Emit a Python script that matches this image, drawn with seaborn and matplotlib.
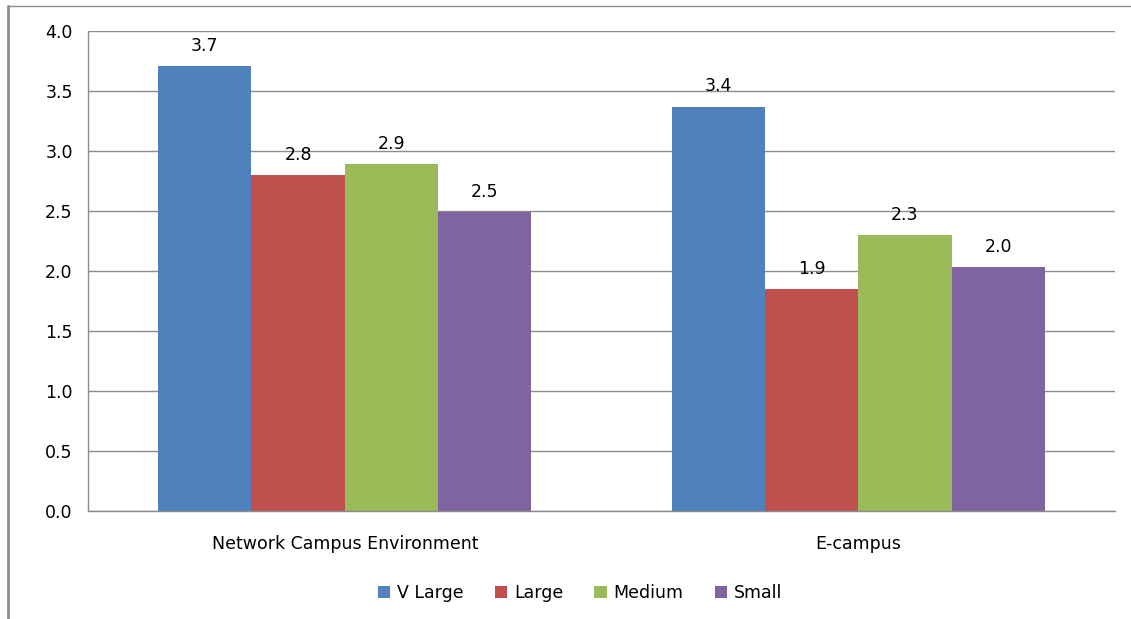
import pandas as pd
import matplotlib
matplotlib.use("Agg")
import matplotlib.pyplot as plt
import seaborn as sns
from matplotlib.lines import Line2D
from matplotlib.patches import Patch

# values
categories = ["Network Campus Environment", "E-campus"]
sizes = ["V Large", "Large", "Medium", "Small"]
v_large = [3.71, 3.37]
large = [2.80, 1.85]
medium = [2.89, 2.30]
small = [2.49, 2.03]
colors = ["#4F81BD", "#C0504D", "#9BBB59", "#8064A2"]
y_ticks = [0.0, 0.5, 1.0, 1.5, 2.0, 2.5, 3.0, 3.5, 4.0]

rows = []
for size, vals in zip(sizes, [v_large, large, medium, small]):
    for cat, v in zip(categories, vals):
        rows.append({"Category": cat, "Size": size, "Score": v})
df = pd.DataFrame(rows)

sns.set_style("white")
plt.rcParams["font.family"] = ["DejaVu Sans"]
fs = 12.5

fig = plt.figure(figsize=(11.31, 6.19), dpi=100)
ax = fig.add_axes([88 / 1131, 1 - 511 / 619, (1115 - 88) / 1131, (511 - 31) / 619])

sns.barplot(data=df, x="Category", y="Score", hue="Size", order=categories,
            hue_order=sizes, palette=colors, width=0.727, saturation=1,
            errorbar=None, ax=ax, legend=False, edgecolor="none", linewidth=0)

for c in ax.containers:
    ax.bar_label(c, fmt="%.1f", padding=8, fontsize=fs, color="black")

ax.set_xlim(-0.5, 1.5)
ax.set_ylim(0, 4.0)
ax.set_yticks(y_ticks)
ax.set_yticklabels([f"{t:.1f}" for t in y_ticks], fontsize=fs, color="black")
ax.yaxis.grid(True, color="#8c8c8c", linewidth=1)
ax.set_axisbelow(True)
ax.set_xlabel("")
ax.set_ylabel("")
ax.tick_params(axis="x", which="major", length=0, pad=17, labelsize=fs, labelcolor="black")
ax.set_xticks([-0.5, 0.5, 1.5], minor=True)
ax.tick_params(axis="x", which="minor", length=6, color="#8c8c8c", direction="out")
ax.tick_params(axis="y", length=7, color="#8c8c8c", direction="out", pad=4)

for side in ["top", "right"]:
    ax.spines[side].set_visible(False)
for side in ["left", "bottom"]:
    ax.spines[side].set_color("#8c8c8c")
    ax.spines[side].set_linewidth(1)

handles = [Patch(facecolor=c, edgecolor="none") for c in colors]
fig.legend(handles, sizes, loc="center", bbox_to_anchor=(580 / 1131, 1 - 593 / 619),
           ncol=4, frameon=False, fontsize=fs, handlelength=0.7, handleheight=0.7,
           handletextpad=0.4, columnspacing=1.8, labelcolor="black")

# outer frame lines (left and top)
fig.add_artist(Line2D([8 / 1131, 8 / 1131], [0, 1 - 6 / 619], transform=fig.transFigure,
                      color="#8c8c8c", linewidth=2))
fig.add_artist(Line2D([8 / 1131, 1], [1 - 6 / 619, 1 - 6 / 619], transform=fig.transFigure,
                      color="#8c8c8c", linewidth=1))

fig.savefig("out.png", dpi=100)
